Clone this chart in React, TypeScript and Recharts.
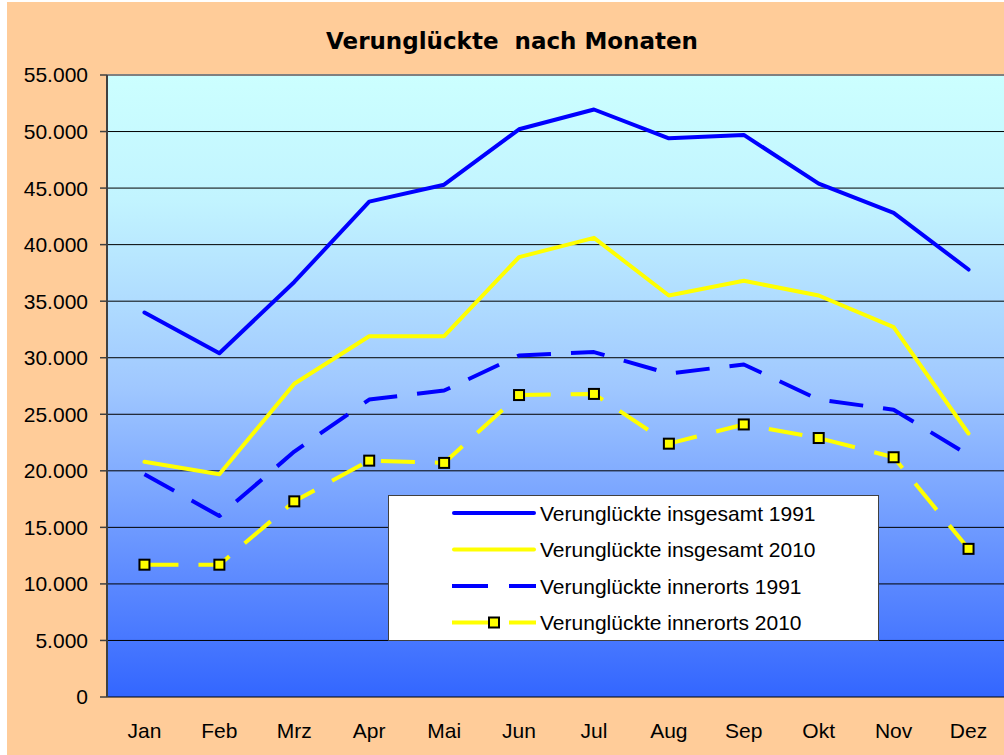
import React from "react"
import {
  LineChart,
  Line,
  XAxis,
  YAxis,
  CartesianGrid,
  Legend,
  ReferenceLine,
} from "recharts"

// Values (persons injured per month, Germany)
const MONTHS = ["Jan", "Feb", "Mrz", "Apr", "Mai", "Jun", "Jul", "Aug", "Sep", "Okt", "Nov", "Dez"]
const INSGESAMT_1991 = [34000, 30400, 36700, 43800, 45300, 50200, 51950, 49400, 49700, 45400, 42800, 37800]
const INSGESAMT_2010 = [20800, 19700, 27700, 31900, 31900, 38900, 40600, 35500, 36800, 35500, 32700, 23300]
const INNERORTS_1991 = [19700, 16000, 21700, 26300, 27100, 30200, 30500, 28600, 29400, 26300, 25400, 21400]
const INNERORTS_2010 = [11700, 11700, 17300, 20900, 20700, 26700, 26800, 22400, 24100, 22900, 21200, 13100]
const Y_TICKS = [0, 5000, 10000, 15000, 20000, 25000, 30000, 35000, 40000, 45000, 50000, 55000]

const BLUE = "#0000ff"
const YELLOW = "#ffff00"
const AXIS = "#404040"
const FONT = "'Liberation Sans', Arial, sans-serif"

const SERIES = [
  { key: "ins1991", name: "Verunglückte insgesamt 1991", values: INSGESAMT_1991, color: BLUE, dash: undefined, marker: false },
  { key: "ins2010", name: "Verunglückte insgesamt 2010", values: INSGESAMT_2010, color: YELLOW, dash: undefined, marker: false },
  { key: "inn1991", name: "Verunglückte innerorts 1991", values: INNERORTS_1991, color: BLUE, dash: "34 20", marker: false },
  { key: "inn2010", name: "Verunglückte innerorts 2010", values: INNERORTS_2010, color: YELLOW, dash: "34 20", marker: true },
]

const data = MONTHS.map((month, i) => {
  const row: Record<string, string | number> = { month }
  SERIES.forEach((s) => {
    row[s.key] = s.values[i]
  })
  return row
})

// category edges 0..12 for the tick marks between the months
const EDGE_TICKS = MONTHS.map((_, i) => i).concat(MONTHS.length)

const formatDe = (v: number) => String(v).replace(/\B(?=(\d{3})+(?!\d))/g, ".")

const SquareDot = (props: any) => {
  const { cx, cy } = props
  if (cx == null || cy == null) return null
  return <rect x={cx - 5} y={cy - 5} width={10} height={10} fill={YELLOW} stroke="#000" strokeWidth={2} />
}

const LegendBox = () => (
  <div
    style={{
      boxSizing: "border-box",
      width: 491,
      height: 146,
      background: "#fff",
      border: "1px solid #404040",
      position: "relative",
    }}
  >
    <svg width={489} height={144} style={{ position: "absolute", left: 0, top: 0 }}>
      {SERIES.map((s, i) => {
        const y = 17 + i * 36.5
        return (
          <g key={s.key}>
            <line
              x1={s.dash ? 63 : 65}
              x2={s.dash ? 147 : 145}
              y1={y}
              y2={y}
              stroke={s.color}
              strokeWidth={4}
              strokeDasharray={s.dash ? "36 21" : undefined}
              strokeLinecap={s.dash ? "butt" : "round"}
            />
            {s.marker && <rect x={100} y={y - 5} width={10} height={10} fill={YELLOW} stroke="#000" strokeWidth={2} />}
            <text x={151} y={y} dy="0.36em" fontSize={21} fontFamily={FONT} fill="#000">
              {s.name}
            </text>
          </g>
        )
      })}
    </svg>
  </div>
)

export default function App() {
  return (
    <>
      <style>{"body{margin:0;overflow:hidden;background:#fff}"}</style>
      <svg width={0} height={0} style={{ position: "absolute" }}>
        <defs>
          <linearGradient id="plotBg" x1="0" y1="0" x2="0" y2="1">
            <stop offset="0%" stopColor="#ccffff" />
            <stop offset="20%" stopColor="#c2f4ff" />
            <stop offset="50%" stopColor="#a0c8ff" />
            <stop offset="80%" stopColor="#5f8cff" />
            <stop offset="100%" stopColor="#3366ff" />
          </linearGradient>
        </defs>
      </svg>
      <div
        style={{
          position: "absolute",
          left: 7,
          top: 2,
          width: 997,
          height: 753,
          overflow: "hidden",
          background: "#ffcc99",
        }}
      >
        <div
          style={{
            position: "absolute",
            left: 0,
            width: 1010,
            top: 25,
            textAlign: "center",
            fontFamily: "'DejaVu Sans', sans-serif",
            fontWeight: "bold",
            fontSize: 23,
            lineHeight: "28px",
            whiteSpace: "pre",
            color: "#000",
          }}
        >
          {"Verunglückte  nach Monaten"}
        </div>
        <LineChart
          width={1006}
          height={753}
          data={data}
          margin={{ top: 73, right: 7, bottom: 18, left: 0 }}
          style={{ position: "absolute", left: 0, top: 0 }}
        >
          <CartesianGrid vertical={false} stroke="#000" strokeWidth={1} fill="url(#plotBg)" fillOpacity={1} />
          <XAxis
            xAxisId="edges"
            type="number"
            domain={[0, MONTHS.length]}
            ticks={EDGE_TICKS}
            tick={false}
            tickSize={7}
            tickLine={{ stroke: AXIS, strokeWidth: 1.5 }}
            axisLine={{ stroke: AXIS, strokeWidth: 2 }}
            height={0}
          />
          <XAxis
            dataKey="month"
            scale="band"
            interval={0}
            tickLine={false}
            axisLine={false}
            tickSize={0}
            tickMargin={26}
            height={40}
            tick={{ fontSize: 21, fontFamily: FONT, fill: "#000" }}
          />
          <YAxis
            domain={[0, 55000]}
            ticks={Y_TICKS}
            interval={0}
            width={100}
            tickSize={7}
            tickMargin={12}
            tickFormatter={formatDe}
            tickLine={{ stroke: AXIS, strokeWidth: 1.5 }}
            axisLine={{ stroke: AXIS, strokeWidth: 2 }}
            tick={{ fontSize: 21, fontFamily: FONT, fill: "#000" }}
          />
          <ReferenceLine y={55000} stroke="#808080" strokeWidth={2} />
          {SERIES.map((s) => (
            <Line
              key={s.key}
              type="linear"
              dataKey={s.key}
              name={s.name}
              stroke={s.color}
              strokeWidth={4}
              strokeDasharray={s.dash}
              strokeLinecap={s.dash ? "butt" : "round"}
              strokeLinejoin="round"
              dot={s.marker ? <SquareDot /> : false}
              activeDot={false}
              isAnimationActive={false}
            />
          ))}
          <Legend
            layout="vertical"
            align="center"
            verticalAlign="middle"
            content={() => <LegendBox />}
            wrapperStyle={{ position: "absolute", left: 381, top: 493, width: 491, height: 146 }}
          />
        </LineChart>
      </div>
    </>
  )
}
